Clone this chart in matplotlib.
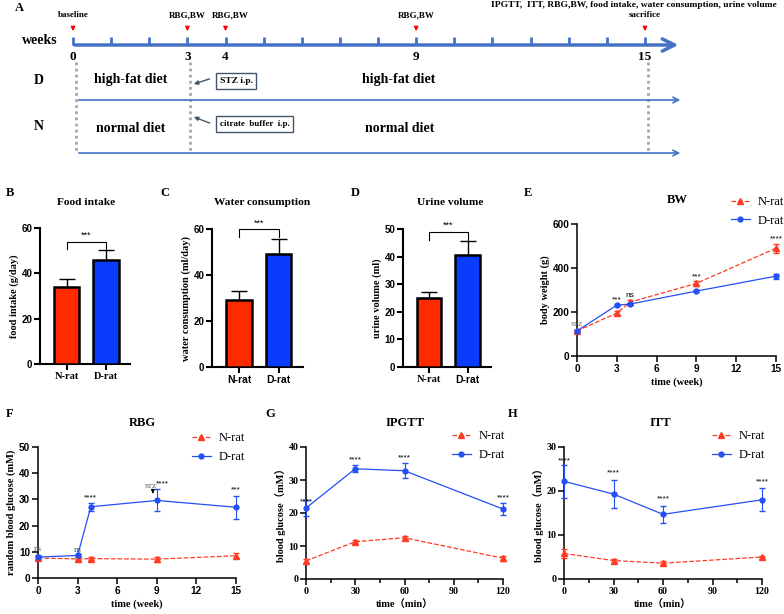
import matplotlib
matplotlib.use('Agg')
import matplotlib.pyplot as plt
from matplotlib.lines import Line2D

# ---- data ----
timeline_weeks = list(range(16))
timeline_labeled = [0, 3, 4, 9, 15]
event_weeks = [0, 3, 4, 9, 15]
event_labels = ['baseline', 'RBG,BW', 'RBG,BW', 'RBG,BW', 'sacrifice']
final_label = 'IPGTT,  ITT, RBG,BW, food intake, water consumption, urine volume'

groups = ['N-rat', 'D-rat']
food_mean = [34, 46]
food_err = [3.3, 4.2]
water_mean = [29, 49]
water_err = [4.0, 6.7]
urine_mean = [25, 40.7]
urine_err = [2.2, 5.0]

bw_weeks = [0, 3, 4, 9, 15]
bw_n = [114, 195, 245, 330, 490]
bw_n_err = [6, 10, 9, 10, 20]
bw_d = [114, 231, 236, 295, 363]
bw_d_err = [5, 5, 5, 5, 12]

rbg_weeks = [0, 3, 4, 9, 15]
rbg_n = [7.6, 7.3, 7.4, 7.2, 8.5]
rbg_n_err = [0.8, 0.6, 0.6, 1.0, 1.0]
rbg_d = [8.0, 8.6, 27.2, 29.6, 27.0]
rbg_d_err = [0.6, 0.5, 1.5, 4.2, 4.4]

gtt_min = [0, 30, 60, 120]
gtt_n = [5.5, 11.3, 12.5, 6.3]
gtt_n_err = [0.7, 0.5, 0.6, 0.7]
gtt_d = [21.5, 33.4, 32.8, 21.2]
gtt_d_err = [2.4, 1.0, 2.3, 1.8]

itt_min = [0, 30, 60, 120]
itt_n = [5.8, 4.2, 3.6, 5.0]
itt_n_err = [1.0, 0.3, 0.4, 0.3]
itt_d = [22.2, 19.3, 14.7, 18.0]
itt_d_err = [3.7, 3.1, 2.0, 2.6]

# ---- style ----
SERIF = 'Liberation Serif'
SANS = 'Liberation Sans'
TL_BLUE = '#4472C4'
BAR_RED = '#FF2A00'
BAR_BLUE = '#0A3CFF'
LN_RED = '#FF3B24'
LN_BLUE = '#2450F5'

W, H = 784, 614
fig = plt.figure(figsize=(W / 100, H / 100), dpi=100)


def px_axes(l, t, r, b):
    return fig.add_axes([l / W, 1 - b / H, (r - l) / W, (b - t) / H])


def ftext(x, y, s, **kw):
    fig.text(x / W, 1 - y / H, s, **kw)


# ---- panel A: timeline ----
wk_px = 38.13
ax = px_axes(0, 0, W, 165)
ax.set_xlim(-73 / wk_px, (W - 73) / wk_px)
ax.set_ylim(165, 0)
ax.axis('off')

ax.annotate('', xy=(15.95, 45), xytext=(-0.03, 45),
            arrowprops=dict(arrowstyle='->', lw=2.5, color=TL_BLUE, mutation_scale=22))
ax.vlines(timeline_weeks, 37, 45, color=TL_BLUE, lw=2)
for w in timeline_labeled:
    ax.text(w, 57, str(w), ha='center', va='center', fontsize=9.5,
            fontweight='bold', family=SERIF)
ax.text(-0.87, 41, 'weeks', ha='center', va='center', fontsize=10,
        fontweight='bold', family=SERIF)

for w, lab in zip(event_weeks, event_labels):
    ax.annotate('', xy=(w, 34), xytext=(w, 25),
                arrowprops=dict(arrowstyle='-|>', lw=1, color='red', mutation_scale=6))
    dx = 0.12 if (w == 4) else 0
    ax.text(w + dx, 15, lab, ha='center', va='center', fontsize=6.5,
            fontweight='bold', family=SERIF)
ax.text(14.72, 5, final_label, ha='center', va='center', fontsize=6.8,
        fontweight='bold', family=SERIF)

for yrow in (100, 153):
    ax.annotate('', xy=(16.0, yrow), xytext=(0.08, yrow),
                arrowprops=dict(arrowstyle='->', lw=1.2, color=TL_BLUE, mutation_scale=10))
for w in (0.08, 3.07, 15.08):
    ax.vlines(w, 62, 153, color='#A6A6A6', lw=2, linestyles=(0, (1, 1.2)))

row_font = dict(ha='center', va='center', fontsize=10, fontweight='bold', family=SERIF)
ax.text(-0.89, 80, 'D', **row_font)
ax.text(-0.89, 127, 'N', **row_font)
ax.text(1.52, 80, 'high-fat diet', **row_font)
ax.text(8.55, 80, 'high-fat diet', **row_font)
ax.text(1.52, 129, 'normal diet', **row_font)
ax.text(8.58, 129, 'normal diet', **row_font)

box = dict(boxstyle='square,pad=0.4', fc='white', ec='#44546A', lw=1)
ax.text(4.28, 81, 'STZ i.p.', ha='center', va='center', fontsize=6.8,
        fontweight='bold', family=SERIF, bbox=box)
ax.text(4.76, 124, 'citrate  buffer  i.p.', ha='center', va='center', fontsize=6.5,
        fontweight='bold', family=SERIF, bbox=box)
ax.annotate('', xy=(3.1, 85), xytext=(3.65, 78),
            arrowprops=dict(arrowstyle='-|>', lw=1, color='#44546A', mutation_scale=6))
ax.annotate('', xy=(3.1, 116), xytext=(3.65, 124),
            arrowprops=dict(arrowstyle='-|>', lw=1, color='#44546A', mutation_scale=6))

ftext(15, 8, 'A', fontsize=9, fontweight='bold', family=SERIF, va='center')


# ---- bar panels ----
def bar_panel(box_px, means, errs, ylim, yticks, ylabel, title, title_xy,
              letter, letter_xy, bracket, xfonts):
    a = px_axes(*box_px)
    a.bar([0, 1], means, width=0.64, color=[BAR_RED, BAR_BLUE],
          edgecolor='black', linewidth=1.8, zorder=3)
    a.errorbar([0, 1], means, yerr=[[0, 0], errs], fmt='none', ecolor='black',
               elinewidth=1, capsize=6, capthick=1, zorder=2)
    a.set_xlim(-0.68, 1.61)
    a.set_ylim(*ylim)
    a.set_yticks(yticks)
    a.set_xticks([0, 1])
    a.set_xticklabels(groups)
    for lbl, fam in zip(a.get_xticklabels(), xfonts):
        lbl.set_family(fam)
        lbl.set_fontweight('bold')
        lbl.set_fontsize(7.5)
    for lbl in a.get_yticklabels():
        lbl.set_family(SANS)
        lbl.set_fontweight('bold')
        lbl.set_fontsize(7)
    for s in ('top', 'right'):
        a.spines[s].set_visible(False)
    for s in ('left', 'bottom'):
        a.spines[s].set_linewidth(1.5)
    a.tick_params(width=1.5, length=4, pad=1.5)
    a.set_ylabel(ylabel, fontsize=7.5, fontweight='bold', family=SERIF, labelpad=2)
    top, leg = bracket
    a.plot([0, 0, 1, 1], [leg, top, top, leg], color='black', lw=0.8, clip_on=False)
    a.text(0.5, top + (ylim[1] - ylim[0]) * 0.012, '***', ha='center', va='bottom',
           fontsize=6.5, family=SANS, clip_on=False)
    ftext(*title_xy, title, ha='center', va='center', fontsize=8.2,
          fontweight='bold', family=SERIF)
    ftext(*letter_xy, letter, ha='left', va='center', fontsize=9,
          fontweight='bold', family=SERIF)


bar_panel((40, 228, 130, 364), food_mean, food_err, (0, 60), [0, 20, 40, 60],
          'food intake (g/day)', 'Food intake', (86, 203), 'B', (6, 193),
          (54, 50.8), [SERIF, SERIF])
bar_panel((212, 229, 303, 367), water_mean, water_err, (0, 60), [0, 20, 40, 60],
          'water consumption (ml/day)', 'Water consumption', (262, 203), 'C', (160, 193),
          (60, 56.5), [SANS, SANS])
bar_panel((403, 229, 491, 367), urine_mean, urine_err, (0, 50), [0, 10, 20, 30, 40, 50],
          'urine volume (ml)', 'Urine volume', (450, 203), 'D', (351, 193),
          (49, 46), [SERIF, SANS])


# ---- line panels ----
def series(a, x, y, err, color, ls, marker, ms):
    eb = a.errorbar(x, y, yerr=err, color=color, ls=ls, lw=0.9, marker=marker,
                    ms=ms, capsize=2, elinewidth=0.8, zorder=3)
    arts = [eb.lines[0]] + list(eb.lines[1]) + list(eb.lines[2])
    for art in arts:
        art.set_clip_on(False)


def line_panel(box_px, x, n, n_err, d, d_err, xlim, xticks, ylim, yticks,
               xlabel, ylabel, title, title_xy, letter, letter_xy, legend_xy,
               tickfam, minor=None):
    a = px_axes(*box_px)
    series(a, x, n, n_err, LN_RED, '--', '^', 4.5)
    series(a, x, d, d_err, LN_BLUE, '-', 'o', 3.5)
    a.set_xlim(*xlim)
    a.set_ylim(*ylim)
    a.set_xticks(xticks)
    a.set_yticks(yticks)
    if minor is not None:
        a.set_xticks(minor, minor=True)
        a.tick_params(axis='x', which='minor', length=3, width=1.1)
    for lbl in a.get_xticklabels() + a.get_yticklabels():
        lbl.set_family(tickfam)
        lbl.set_fontweight('bold')
        lbl.set_fontsize(7.2)
    for s in ('top', 'right'):
        a.spines[s].set_visible(False)
    for s in ('left', 'bottom'):
        a.spines[s].set_linewidth(1.1)
    a.tick_params(width=1.1, length=4, pad=1.5)
    a.set_xlabel(xlabel, fontsize=7.5, fontweight='bold',
                 family=[SERIF, 'Noto Sans CJK SC'], labelpad=3)
    a.set_ylabel(ylabel, fontsize=7.5, fontweight='bold',
                 family=[SERIF, 'Noto Sans CJK SC'], labelpad=2)
    ftext(*title_xy, title, ha='center', va='center', fontsize=9,
          fontweight='bold', family=SERIF)
    ftext(*letter_xy, letter, ha='left', va='center', fontsize=9,
          fontweight='bold', family=SERIF)
    handles = [Line2D([], [], color=LN_RED, ls='--', lw=0.9, marker='^', ms=4.5),
               Line2D([], [], color=LN_BLUE, ls='-', lw=0.9, marker='o', ms=3.5)]
    fig.legend(handles, groups, loc='upper left',
               bbox_to_anchor=(legend_xy[0] / W, 1 - legend_xy[1] / H),
               frameon=False, handlelength=1.5, handletextpad=0.6,
               borderpad=0, borderaxespad=0, labelspacing=0.55,
               prop=dict(family=SERIF, size=9))
    return a


ax_e = line_panel((577, 224, 776, 356), bw_weeks, bw_n, bw_n_err, bw_d, bw_d_err,
                  (0, 15), [0, 3, 6, 9, 12, 15], (0, 600), [0, 200, 400, 600],
                  'time (week)', 'body weight (g)', 'BW', (677, 200),
                  'E', (524, 193), (731, 196), SANS)
star = dict(ha='center', va='bottom', fontsize=6, family=SANS, clip_on=False)
ax_e.text(3, 240, '***', **star)
ax_e.text(4, 258, 'ns', **star)
ax_e.text(9, 345, '***', **star)
ax_e.text(15, 515, '****', **star)
ax_e.text(0, 130, 'STZ', ha='center', va='bottom', fontsize=5, family=SERIF,
          color='#555555', clip_on=False)

ax_f = line_panel((38, 447, 236, 578), rbg_weeks, rbg_n, rbg_n_err, rbg_d, rbg_d_err,
                  (0, 15), [0, 3, 6, 9, 12, 15], (0, 50), [0, 10, 20, 30, 40, 50],
                  'time (week)', 'random blood glucose (mM)', 'RBG', (142, 423),
                  'F', (6, 414), (192, 432), SANS)
ax_f.text(0, 9.6, 'ns', ha='center', va='bottom', fontsize=6.5, family=SERIF,
          color='#555555', clip_on=False)
ax_f.text(3, 9.2, 'ns', ha='center', va='bottom', fontsize=6.5, family=SERIF,
          color='#555555')
ax_f.text(4, 29.3, '****', **star)
ax_f.text(9.45, 34.6, '****', **star)
ax_f.text(15, 32.2, '***', **star)
ax_f.text(8.55, 34.0, 'STZ', ha='center', va='bottom', fontsize=5, family=SERIF,
          color='#444444')
ax_f.annotate('', xy=(8.7, 31.2), xytext=(8.7, 34.0),
              arrowprops=dict(arrowstyle='-|>', lw=0.8, color='black', mutation_scale=5))

ax_g = line_panel((306, 447, 503, 579), gtt_min, gtt_n, gtt_n_err, gtt_d, gtt_d_err,
                  (0, 120), [0, 30, 60, 90, 120], (0, 40), [0, 10, 20, 30, 40],
                  'time（min）', 'blood glucose（mM）', 'IPGTT', (405, 423),
                  'G', (265, 414), (452, 430), SERIF,
                  minor=[15, 45, 75, 105])
ax_g.text(0, 22.3, '****', **star)
ax_g.text(30, 35.0, '****', **star)
ax_g.text(60, 35.5, '****', **star)
ax_g.text(120, 23.5, '****', **star)

ax_h = line_panel((564, 447, 762, 579), itt_min, itt_n, itt_n_err, itt_d, itt_d_err,
                  (0, 120), [0, 30, 60, 90, 120], (0, 30), [0, 10, 20, 30],
                  'time（min）', 'blood glucose（mM）', 'ITT', (660, 423),
                  'H', (508, 414), (712, 430), SERIF,
                  minor=[15, 45, 75, 105])
ax_h.text(0, 26.0, '****', **star)
ax_h.text(30, 23.3, '****', **star)
ax_h.text(60, 17.3, '****', **star)
ax_h.text(120, 21.3, '****', **star)

fig.savefig('out.png', dpi=100)
